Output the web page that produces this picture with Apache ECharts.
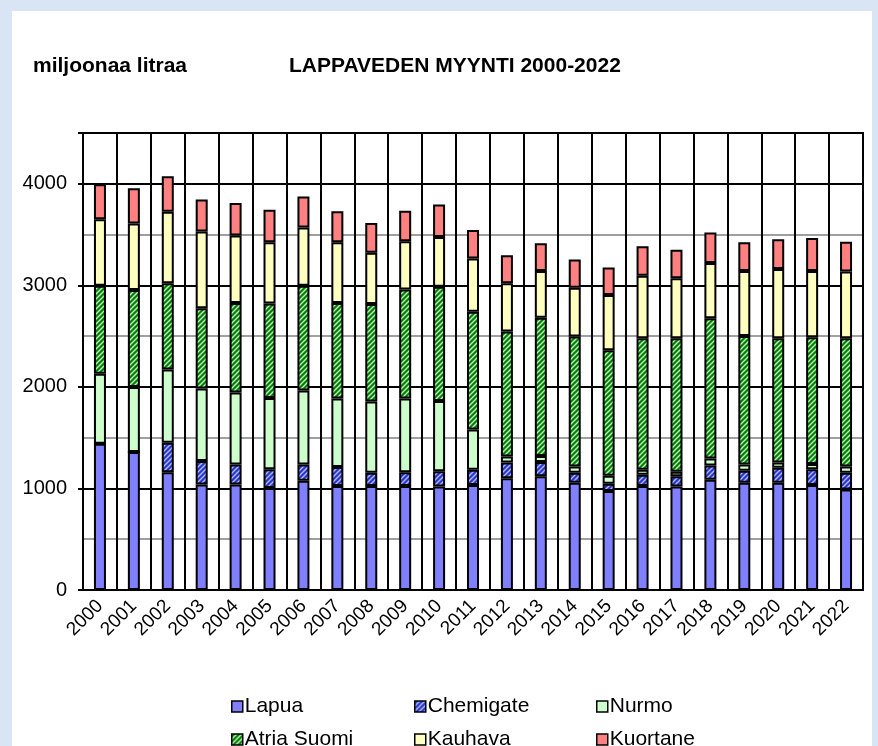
<!DOCTYPE html>
<html>
<head>
<meta charset="utf-8">
<title>Lappaveden myynti 2000-2022</title>
<script src="https://cdn.jsdelivr.net/npm/echarts@6/dist/echarts.min.js"></script>
<style>
  html, body { margin: 0; padding: 0; background: #d9e5f4; }
  #chart { width: 878px; height: 746px; }
</style>
</head>
<body>
<div id="chart"></div>
<script>
// vuodet
const years = ["2000", "2001", "2002", "2003", "2004", "2005", "2006", "2007", "2008", "2009", "2010", "2011",
  "2012", "2013", "2014", "2015", "2016", "2017", "2018", "2019", "2020", "2021", "2022"];

// myynti, miljoonaa litraa (luettu kuvasta)
const lapua = [1440, 1360, 1160, 1040, 1040, 1005, 1075, 1025, 1025, 1025, 1020, 1035,
  1100, 1120, 1055, 975, 1025, 1020, 1085, 1055, 1055, 1035, 990];
const chemigate = [0, 0, 290, 230, 195, 185, 160, 185, 130, 135, 150, 150,
  155, 140, 100, 70, 110, 100, 140, 120, 150, 155, 165];
const nurmo = [690, 640, 720, 715, 710, 700, 730, 675, 700, 725, 690, 395,
  60, 60, 60, 80, 50, 45, 70, 60, 50, 50, 60];
const atria = [865, 955, 850, 790, 880, 930, 1030, 940, 960, 1075, 1125, 1160,
  1230, 1360, 1280, 1235, 1295, 1315, 1380, 1265, 1225, 1250, 1265];
const kauhava = [655, 655, 705, 755, 665, 605, 575, 600, 505, 475, 490, 525,
  475, 460, 480, 545, 615, 590, 545, 640, 680, 650, 655];
const kuortane = [345, 345, 350, 315, 320, 320, 305, 305, 295, 300, 320, 280,
  275, 275, 280, 270, 290, 280, 300, 285, 295, 325, 295];

const yTicks = [0, 1000, 2000, 3000, 4000];

// vinoviivoitus kuviolle
function makeHatch(bg, fg) {
  const size = 5;
  const c = document.createElement("canvas");
  c.width = size;
  c.height = size;
  const ctx = c.getContext("2d");
  ctx.fillStyle = bg;
  ctx.fillRect(0, 0, size, size);
  ctx.strokeStyle = fg;
  ctx.lineWidth = 1.4;
  ctx.beginPath();
  ctx.moveTo(0, size);
  ctx.lineTo(size, 0);
  ctx.moveTo(-1, 1);
  ctx.lineTo(1, -1);
  ctx.moveTo(size - 1, size + 1);
  ctx.lineTo(size + 1, size - 1);
  ctx.stroke();
  return { image: c, repeat: "repeat" };
}

const chemigateFill = makeHatch("#3333cc", "#a0c0ff");
const atriaFill = makeHatch("#008000", "#c0f0c0");

const seriesDefs = [
  { name: "Lapua", data: lapua, color: "#8080ff" },
  { name: "Chemigate", data: chemigate, color: chemigateFill },
  { name: "Nurmo", data: nurmo, color: "#ccffcc" },
  { name: "Atria Suomi", data: atria, color: atriaFill },
  { name: "Kauhava", data: kauhava, color: "#ffffc0" },
  { name: "Kuortane", data: kuortane, color: "#ff8080" },
];

const myChart = echarts.init(document.getElementById("chart"));

// legendat kahdessa rivissä
const legendPos = [
  [226, 691], [409, 691], [591, 691],
  [226, 724], [409, 724], [591, 724],
];
const legends = seriesDefs.map((s, i) => ({
  data: [s.name],
  left: legendPos[i][0],
  top: legendPos[i][1],
  icon: "rect",
  itemWidth: 11,
  itemHeight: 11,
  itemGap: 4,
  itemStyle: { borderColor: "#000", borderWidth: 1.5 },
  textStyle: { fontFamily: "Liberation Sans, Arial", fontSize: 21, color: "#000", padding: [0, 0, 0, -3] },
}));

const option = {
  animation: false,
  backgroundColor: "#d9e5f4",
  graphic: [
    {
      type: "rect",
      shape: { x: 12, y: 11, width: 860, height: 740 },
      style: { fill: "#ffffff" },
      z: -10,
    },
    {
      type: "text",
      left: 33,
      top: 56,
      style: { text: "miljoonaa litraa", font: "bold 21px 'Liberation Sans', Arial", fill: "#000" },
    },
    {
      type: "text",
      left: 289,
      top: 56,
      style: { text: "LAPPAVEDEN MYYNTI 2000-2022", font: "bold 21px 'Liberation Sans', Arial", fill: "#000" },
    },
  ],
  legend: legends,
  grid: {
    left: 83,
    right: 15,
    top: 133,
    bottom: 156,
    show: true,
    borderColor: "#000",
    borderWidth: 2,
    backgroundColor: "transparent",
  },
  xAxis: {
    type: "category",
    data: years,
    boundaryGap: true,
    axisLine: { lineStyle: { color: "#000", width: 2 } },
    axisTick: { show: false },
    splitLine: { show: true, interval: 0, lineStyle: { color: "#000", width: 2 } },
    axisLabel: {
      interval: 0,
      rotate: 45,
      margin: 13,
      fontFamily: "Liberation Sans, Arial",
      fontSize: 19,
      color: "#000",
    },
  },
  yAxis: {
    type: "value",
    min: 0,
    max: 4500,
    interval: 1000,
    axisLine: { show: true, lineStyle: { color: "#000", width: 2 } },
    axisTick: { show: true, length: 5, lineStyle: { color: "#000", width: 2 } },
    splitLine: { show: true, lineStyle: { color: "#000", width: 2 } },
    minorTick: { show: false, splitNumber: 2 },
    minorSplitLine: { show: true, lineStyle: { color: "#808080", width: 1.5 } },
    axisLabel: {
      margin: 16,
      fontFamily: "Liberation Sans, Arial",
      fontSize: 20,
      color: "#000",
      formatter: (v) => (yTicks.includes(v) ? String(v) : ""),
    },
  },
  series: seriesDefs.map((s) => ({
    name: s.name,
    type: "bar",
    stack: "myynti",
    barWidth: 12,
    data: s.data,
    itemStyle: { color: s.color, borderColor: "#000", borderWidth: 2 },
  })),
};

myChart.setOption(option);
</script>
</body>
</html>
